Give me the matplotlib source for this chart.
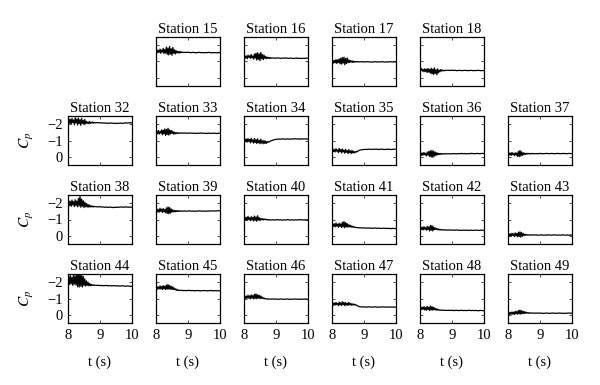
import matplotlib
matplotlib.use("Agg")
import matplotlib.pyplot as plt

plt.rcParams['font.family'] = ['Liberation Serif', 'DejaVu Serif']
plt.rcParams['mathtext.fontset'] = 'stix'

# sample times: dense during the burst, coarser afterwards
t = [8.000, 8.025, 8.050, 8.075, 8.100, 8.125, 8.150, 8.175, 8.200, 8.225,
     8.250, 8.275, 8.300, 8.325, 8.350, 8.375, 8.400, 8.425, 8.450, 8.475,
     8.500, 8.525, 8.550, 8.575, 8.600, 8.625, 8.650, 8.675, 8.700, 8.725,
     8.750, 8.775, 8.800, 8.825, 8.850,
     8.90, 8.95, 9.00, 9.05, 9.10, 9.15, 9.20, 9.25, 9.30, 9.35, 9.40, 9.45,
     9.50, 9.55, 9.60, 9.65, 9.70, 9.75, 9.80, 9.85, 9.90, 9.95, 10.00]

cp = {}
cp[15] = [-1.60, -1.72, -1.54, -1.68, -1.56, -1.76, -1.50, -1.70, -1.58, -1.80, -1.48, -1.74, -1.52, -1.88, -1.44, -1.82, -1.40, -1.92, -1.46, -1.78, -1.38, -1.86, -1.50, -1.72, -1.46, -1.68, -1.52, -1.62, -1.52, -1.62, -1.52, -1.60, -1.55, -1.58, -1.55,
          -1.56, -1.55, -1.57, -1.55, -1.54, -1.56, -1.55, -1.53, -1.55, -1.56, -1.54, -1.55, -1.53, -1.55, -1.54, -1.56, -1.54, -1.53, -1.55, -1.54, -1.53, -1.55, -1.54]
cp[16] = [-1.27, -1.37, -1.21, -1.33, -1.17, -1.39, -1.25, -1.35, -1.19, -1.43, -1.23, -1.33, -1.15, -1.45, -1.21, -1.51, -1.09, -1.53, -1.13, -1.47, -1.05, -1.55, -1.17, -1.43, -1.11, -1.39, -1.19, -1.31, -1.17, -1.27, -1.19, -1.25, -1.18, -1.24, -1.20,
          -1.22, -1.21, -1.20, -1.22, -1.21, -1.19, -1.21, -1.20, -1.22, -1.20, -1.19, -1.21, -1.20, -1.18, -1.20, -1.21, -1.19, -1.20, -1.18, -1.20, -1.19, -1.21, -1.19]
cp[17] = [-0.96, -1.08, -0.90, -1.06, -0.92, -1.12, -0.88, -1.10, -0.94, -1.16, -0.86, -1.20, -0.84, -1.24, -0.90, -1.26, -0.80, -1.18, -0.88, -1.22, -0.92, -1.10, -0.94, -1.06, -0.96, -1.04, -0.94, -1.02, -0.96, -1.00, -0.97, -1.00, -0.97, -0.99, -0.98,
          -0.98, -0.99, -0.97, -0.98, -0.99, -0.97, -0.98, -0.96, -0.98, -0.99, -0.97, -0.98, -0.97, -0.99, -0.98, -0.96, -0.98, -0.97, -0.99, -0.98, -0.97, -0.98, -0.97]
cp[18] = [-0.52, -0.43, -0.57, -0.41, -0.51, -0.37, -0.55, -0.39, -0.53, -0.33, -0.57, -0.35, -0.51, -0.29, -0.59, -0.25, -0.53, -0.21, -0.61, -0.27, -0.49, -0.19, -0.55, -0.31, -0.47, -0.37, -0.51, -0.41, -0.48, -0.43, -0.46, -0.43, -0.47, -0.45, -0.46,
          -0.46, -0.45, -0.47, -0.45, -0.46, -0.44, -0.45, -0.46, -0.44, -0.45, -0.46, -0.45, -0.44, -0.45, -0.46, -0.44, -0.45, -0.44, -0.46, -0.45, -0.44, -0.45, -0.44]
cp[32] = [-2.15, -2.33, -2.05, -2.29, -2.01, -2.35, -2.09, -2.25, -1.97, -2.39, -2.07, -2.31, -1.95, -2.37, -2.03, -2.27, -1.93, -2.35, -2.05, -2.23, -1.97, -2.29, -2.01, -2.17, -2.05, -2.13, -2.03, -2.17, -2.05, -2.11, -2.07, -2.13, -2.06, -2.11, -2.08,
          -2.10, -2.08, -2.09, -2.07, -2.08, -2.06, -2.07, -2.05, -2.06, -2.07, -2.05, -2.06, -2.04, -2.06, -2.05, -2.07, -2.05, -2.06, -2.08, -2.07, -2.08, -2.09, -2.08]
cp[33] = [-1.47, -1.57, -1.41, -1.61, -1.39, -1.55, -1.45, -1.65, -1.35, -1.63, -1.41, -1.71, -1.31, -1.67, -1.37, -1.75, -1.33, -1.65, -1.39, -1.61, -1.43, -1.57, -1.39, -1.51, -1.41, -1.49, -1.43, -1.47, -1.43, -1.46, -1.45, -1.47, -1.44, -1.46, -1.45,
          -1.46, -1.45, -1.44, -1.46, -1.45, -1.44, -1.45, -1.43, -1.45, -1.44, -1.46, -1.44, -1.45, -1.43, -1.44, -1.45, -1.44, -1.43, -1.45, -1.44, -1.43, -1.44, -1.45]
cp[34] = [-1.00, -1.10, -0.92, -1.08, -0.90, -1.12, -0.94, -1.06, -0.86, -1.14, -0.92, -1.04, -0.84, -1.12, -0.88, -1.06, -0.82, -1.10, -0.86, -1.00, -0.80, -1.08, -0.84, -0.98, -0.80, -1.00, -0.82, -0.96, -0.82, -0.94, -0.88, -0.94, -0.92, -0.97, -0.99,
          -1.02, -1.05, -1.07, -1.08, -1.09, -1.08, -1.10, -1.09, -1.08, -1.10, -1.09, -1.08, -1.10, -1.09, -1.11, -1.09, -1.10, -1.08, -1.10, -1.09, -1.10, -1.09, -1.10]
cp[35] = [-0.38, -0.48, -0.32, -0.44, -0.30, -0.50, -0.34, -0.42, -0.26, -0.52, -0.32, -0.44, -0.24, -0.48, -0.30, -0.40, -0.22, -0.46, -0.28, -0.38, -0.20, -0.44, -0.26, -0.36, -0.20, -0.40, -0.24, -0.34, -0.24, -0.32, -0.28, -0.34, -0.32, -0.37, -0.40,
          -0.42, -0.44, -0.45, -0.46, -0.45, -0.47, -0.46, -0.45, -0.47, -0.46, -0.47, -0.45, -0.46, -0.47, -0.46, -0.45, -0.46, -0.47, -0.46, -0.45, -0.46, -0.47, -0.46]
cp[36] = [-0.15, -0.25, -0.09, -0.23, -0.11, -0.27, -0.12, -0.21, -0.06, -0.29, -0.10, -0.33, -0.02, -0.37, 0.01, -0.39, 0.03, -0.35, -0.04, -0.29, -0.08, -0.25, -0.12, -0.22, -0.14, -0.20, -0.15, -0.21, -0.17, -0.19, -0.17, -0.20, -0.18, -0.19, -0.18,
          -0.19, -0.18, -0.19, -0.20, -0.19, -0.18, -0.20, -0.19, -0.21, -0.19, -0.20, -0.18, -0.20, -0.19, -0.21, -0.20, -0.19, -0.20, -0.21, -0.19, -0.20, -0.21, -0.20]
cp[37] = [-0.17, -0.25, -0.11, -0.23, -0.09, -0.27, -0.13, -0.21, -0.07, -0.25, -0.11, -0.23, -0.03, -0.33, -0.01, -0.39, -0.05, -0.31, -0.09, -0.25, -0.13, -0.23, -0.15, -0.21, -0.17, -0.22, -0.18, -0.20, -0.18, -0.21, -0.19, -0.21, -0.19, -0.20, -0.19,
          -0.20, -0.19, -0.21, -0.20, -0.19, -0.20, -0.21, -0.20, -0.19, -0.21, -0.20, -0.19, -0.20, -0.21, -0.20, -0.19, -0.21, -0.20, -0.20, -0.19, -0.21, -0.20, -0.20]
cp[38] = [-1.95, -2.15, -1.85, -2.11, -1.81, -2.19, -1.89, -2.09, -1.79, -2.21, -1.85, -2.13, -1.77, -2.29, -1.83, -2.41, -1.75, -2.25, -1.81, -2.15, -1.73, -2.06, -1.78, -1.98, -1.76, -1.92, -1.76, -1.88, -1.76, -1.84, -1.77, -1.82, -1.77, -1.80, -1.79,
          -1.78, -1.77, -1.79, -1.76, -1.77, -1.75, -1.76, -1.74, -1.76, -1.75, -1.73, -1.75, -1.74, -1.76, -1.75, -1.77, -1.76, -1.75, -1.77, -1.76, -1.75, -1.76, -1.75]
cp[39] = [-1.55, -1.65, -1.47, -1.61, -1.45, -1.69, -1.49, -1.63, -1.43, -1.67, -1.47, -1.61, -1.41, -1.71, -1.37, -1.77, -1.35, -1.73, -1.39, -1.65, -1.45, -1.59, -1.47, -1.55, -1.47, -1.55, -1.49, -1.54, -1.49, -1.53, -1.50, -1.53, -1.51, -1.52, -1.51,
          -1.52, -1.51, -1.52, -1.53, -1.51, -1.52, -1.50, -1.52, -1.51, -1.53, -1.52, -1.51, -1.52, -1.50, -1.52, -1.51, -1.53, -1.52, -1.53, -1.52, -1.53, -1.54, -1.53]
cp[40] = [-1.05, -1.15, -0.97, -1.13, -0.95, -1.19, -0.99, -1.11, -0.93, -1.17, -0.97, -1.13, -0.91, -1.21, -0.95, -1.15, -0.89, -1.23, -0.97, -1.11, -0.93, -1.07, -0.99, -1.05, -0.96, -1.04, -0.99, -1.02, -0.98, -1.00, -0.97, -0.99, -0.97, -0.98, -0.97,
          -0.98, -0.97, -0.98, -0.99, -0.97, -0.98, -0.96, -0.98, -0.97, -0.99, -0.98, -0.97, -0.98, -0.96, -0.98, -0.97, -0.98, -0.99, -0.98, -0.97, -0.98, -0.97, -0.98]
cp[41] = [-0.65, -0.75, -0.57, -0.73, -0.55, -0.79, -0.59, -0.71, -0.53, -0.77, -0.57, -0.73, -0.51, -0.83, -0.55, -0.87, -0.49, -0.81, -0.55, -0.75, -0.53, -0.68, -0.55, -0.65, -0.53, -0.60, -0.53, -0.57, -0.51, -0.53, -0.51, -0.51, -0.50, -0.50, -0.49,
          -0.49, -0.48, -0.49, -0.47, -0.48, -0.47, -0.48, -0.46, -0.47, -0.48, -0.46, -0.47, -0.46, -0.45, -0.47, -0.46, -0.45, -0.46, -0.45, -0.44, -0.46, -0.45, -0.44]
cp[42] = [-0.46, -0.54, -0.38, -0.52, -0.36, -0.56, -0.40, -0.50, -0.34, -0.58, -0.38, -0.54, -0.30, -0.64, -0.34, -0.62, -0.30, -0.55, -0.38, -0.49, -0.39, -0.45, -0.37, -0.42, -0.36, -0.40, -0.36, -0.38, -0.35, -0.37, -0.36, -0.37, -0.35, -0.36, -0.35,
          -0.36, -0.35, -0.36, -0.34, -0.35, -0.36, -0.34, -0.35, -0.33, -0.35, -0.34, -0.35, -0.33, -0.34, -0.35, -0.33, -0.34, -0.35, -0.34, -0.33, -0.35, -0.34, -0.33]
cp[43] = [-0.06, -0.14, 0.00, -0.12, 0.02, -0.16, -0.02, -0.12, 0.04, -0.18, 0.00, -0.14, 0.06, -0.22, 0.04, -0.24, 0.08, -0.20, 0.02, -0.14, -0.01, -0.10, -0.03, -0.08, -0.04, -0.07, -0.04, -0.06, -0.05, -0.06, -0.04, -0.05, -0.05, -0.06, -0.05,
          -0.05, -0.04, -0.05, -0.06, -0.04, -0.05, -0.04, -0.06, -0.05, -0.04, -0.05, -0.06, -0.05, -0.04, -0.05, -0.04, -0.06, -0.05, -0.04, -0.05, -0.04, -0.05, -0.04]
cp[44] = [-2.05, -2.35, -1.85, -2.40, -1.90, -2.30, -1.80, -2.45, -1.88, -2.38, -1.82, -2.50, -1.72, -2.55, -1.70, -2.52, -1.75, -2.46, -1.70, -2.35, -1.80, -2.20, -1.76, -2.08, -1.80, -2.00, -1.78, -1.92, -1.78, -1.87, -1.80, -1.84, -1.80, -1.82, -1.81,
          -1.80, -1.81, -1.79, -1.80, -1.78, -1.79, -1.80, -1.78, -1.79, -1.77, -1.78, -1.79, -1.77, -1.78, -1.76, -1.77, -1.78, -1.76, -1.75, -1.77, -1.76, -1.75, -1.74]
cp[45] = [-1.63, -1.73, -1.57, -1.71, -1.59, -1.77, -1.59, -1.73, -1.55, -1.79, -1.59, -1.75, -1.55, -1.83, -1.57, -1.85, -1.57, -1.79, -1.57, -1.75, -1.55, -1.71, -1.55, -1.64, -1.53, -1.58, -1.50, -1.54, -1.49, -1.51, -1.49, -1.50, -1.49, -1.50, -1.48,
          -1.49, -1.48, -1.50, -1.49, -1.48, -1.49, -1.47, -1.48, -1.49, -1.48, -1.47, -1.48, -1.49, -1.48, -1.47, -1.48, -1.49, -1.48, -1.47, -1.48, -1.47, -1.48, -1.47]
cp[46] = [-1.06, -1.16, -1.00, -1.14, -1.02, -1.20, -1.02, -1.16, -0.98, -1.22, -1.02, -1.18, -0.98, -1.26, -1.00, -1.28, -0.98, -1.22, -1.02, -1.20, -0.99, -1.15, -1.00, -1.09, -0.99, -1.03, -0.98, -0.99, -0.97, -0.98, -0.96, -0.97, -0.96, -0.97, -0.96,
          -0.97, -0.96, -0.97, -0.95, -0.96, -0.97, -0.96, -0.95, -0.96, -0.97, -0.95, -0.96, -0.95, -0.96, -0.97, -0.96, -0.95, -0.96, -0.95, -0.96, -0.97, -0.96, -0.95]
cp[47] = [-0.66, -0.74, -0.58, -0.72, -0.60, -0.76, -0.62, -0.70, -0.56, -0.78, -0.60, -0.74, -0.58, -0.80, -0.62, -0.76, -0.56, -0.74, -0.60, -0.72, -0.58, -0.76, -0.62, -0.70, -0.58, -0.68, -0.60, -0.66, -0.60, -0.64, -0.59, -0.58, -0.55, -0.52, -0.50,
          -0.49, -0.48, -0.49, -0.47, -0.48, -0.49, -0.48, -0.47, -0.48, -0.49, -0.47, -0.48, -0.47, -0.48, -0.49, -0.48, -0.47, -0.48, -0.47, -0.48, -0.47, -0.48, -0.47]
cp[48] = [-0.40, -0.48, -0.32, -0.46, -0.34, -0.50, -0.30, -0.44, -0.28, -0.52, -0.32, -0.46, -0.26, -0.54, -0.30, -0.50, -0.28, -0.46, -0.32, -0.40, -0.28, -0.37, -0.29, -0.33, -0.28, -0.30, -0.27, -0.29, -0.28, -0.29, -0.27, -0.28, -0.27, -0.28, -0.27,
          -0.28, -0.27, -0.28, -0.26, -0.27, -0.28, -0.26, -0.27, -0.28, -0.26, -0.27, -0.26, -0.27, -0.28, -0.26, -0.27, -0.26, -0.27, -0.25, -0.26, -0.27, -0.26, -0.25]
cp[49] = [-0.08, -0.16, -0.02, -0.14, -0.04, -0.18, -0.04, -0.16, -0.02, -0.22, -0.06, -0.20, -0.04, -0.27, -0.06, -0.29, -0.04, -0.25, -0.08, -0.22, -0.07, -0.19, -0.09, -0.16, -0.10, -0.14, -0.09, -0.12, -0.11, -0.12, -0.10, -0.11, -0.10, -0.11, -0.10,
          -0.11, -0.10, -0.11, -0.10, -0.09, -0.10, -0.11, -0.10, -0.09, -0.10, -0.11, -0.10, -0.09, -0.10, -0.11, -0.10, -0.09, -0.10, -0.09, -0.10, -0.11, -0.10, -0.10]

# grid layout: None = empty slot
layout = [[None, 15, 16, 17, 18, None],
          [32, 33, 34, 35, 36, 37],
          [38, 39, 40, 41, 42, 43],
          [44, 45, 46, 47, 48, 49]]
xticks = [8, 9, 10]
yticks = [-2, -1, 0]

W, H = 600, 385
fig = plt.figure(figsize=(W / 100, H / 100), dpi=100)

for r, row in enumerate(layout):
    for c, st in enumerate(row):
        if st is None:
            continue
        x0 = 68 + 88 * c
        y0 = 37 + 79 * r
        ax = fig.add_axes([x0 / W, 1 - (y0 + 49) / H, 64 / W, 49 / H])
        ax.plot(t, cp[st], color='black', lw=0.9)
        ax.set_xlim(8, 10)
        ax.set_ylim(0.5, -2.5)
        ax.set_xticks(xticks)
        ax.set_yticks(yticks)
        ax.tick_params(direction='in', length=2, width=0.5, top=True, right=True,
                       labelsize=10.5, pad=4)
        for s in ax.spines.values():
            s.set_linewidth(0.9)
        ax.set_title(f'Station {st}', fontsize=10.5, pad=3)
        if c == 0:
            ax.set_ylabel('$C_p$', fontsize=11, labelpad=8)
        else:
            ax.set_yticklabels([])
        if r == len(layout) - 1:
            ax.set_xlabel('t (s)', fontsize=10.5, labelpad=10)
        else:
            ax.set_xticklabels([])

fig.savefig('out.png', dpi=100)
